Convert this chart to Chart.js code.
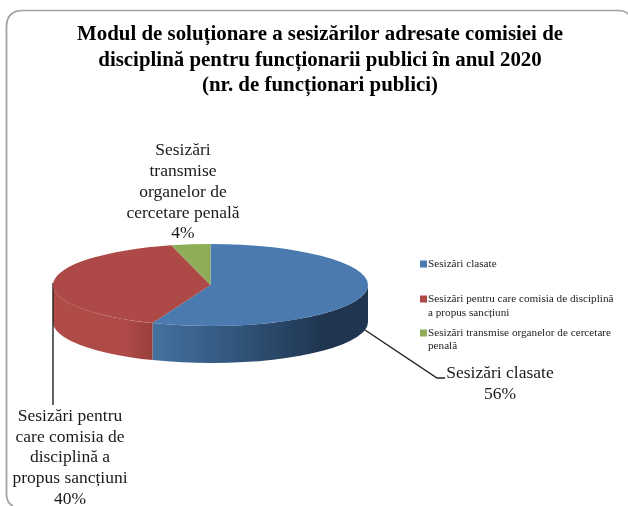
<!DOCTYPE html>
<html><head><meta charset="utf-8">
<style>html,body{margin:0;padding:0;background:#fff}canvas{display:block;filter:blur(0.35px)}</style>
<script src="https://cdn.jsdelivr.net/npm/chart.js@4"></script></head>
<body><div style="width:628px;height:506px"><canvas id="c" width="628" height="506"></canvas></div>
<script>
const titleLines = ["Modul de soluționare a sesizărilor adresate comisiei de","disciplină pentru funcționarii publici în anul 2020","(nr. de funcționari publici)"];
const categories = ["Sesizări clasate","Sesizări pentru care comisia de disciplină a propus sancțiuni","Sesizări transmise organelor de cercetare penală"];
const values = [56,40,4];
const colors = ["#4a7ab0","#ad4a47","#8fac57"];
const legendLines = [["Sesizări clasate"],["Sesizări pentru care comisia de disciplină","a propus sancțiuni"],["Sesizări transmise organelor de cercetare","penală"]];
const dataLabelLines = [["Sesizări clasate","56%"],["Sesizări pentru","care comisia de","disciplină a","propus sancțiuni","40%"],["Sesizări","transmise","organelor de","cercetare penală","4%"]];
const sideStops = [[[0,"#44719f"],[0.35,"#33587f"],[0.8,"#1f3550"],[1,"#1f3550"]],[[0,"#b04c48"],[0.75,"#ae4a47"],[1,"#973e3b"]],[[0,"#8fac57"],[1,"#8fac57"]]];

const CX=210.5, CY=285, RX=157.5, RY=41, DEPTH=37;
const pie3d = {
  id:'pie3d',
  beforeDraw(chart){
    const c=chart.ctx; c.save();
    c.fillStyle='#fff'; c.fillRect(0,0,chart.width,chart.height);
    c.strokeStyle='#a0a0a0'; c.lineWidth=1.7;
    c.beginPath(); c.moveTo(13,506); c.quadraticCurveTo(6.5,503,6.5,494); c.lineTo(6.5,27);
    c.quadraticCurveTo(6.5,10.5,23,10.5); c.lineTo(618,10.5); c.quadraticCurveTo(625,10.5,628,14);
    c.stroke(); c.restore();
  },
  beforeDatasetsDraw(chart){
    const c=chart.ctx, arcs=chart.getDatasetMeta(0).data;
    c.save();
    // extruded rim
    arcs.forEach((a,i)=>{
      const s=Math.max(a.startAngle,0), e=Math.min(a.endAngle,Math.PI);
      if(e<=s) return;
      const x0=CX+RX*Math.cos(e), x1=CX+RX*Math.cos(s);
      const g=c.createLinearGradient(x0,0,x1,0);
      sideStops[i].forEach(p=>g.addColorStop(p[0],p[1]));
      c.fillStyle=g; c.beginPath();
      c.ellipse(CX,CY,RX,RY,0,s,e,false);
      c.ellipse(CX,CY+DEPTH,RX,RY,0,e,s,true);
      c.closePath(); c.fill();
    });
    // leader lines
    c.strokeStyle='#222'; c.lineWidth=1.4;
    c.beginPath(); c.moveTo(53,283); c.lineTo(53,405); c.stroke();
    c.beginPath(); c.moveTo(365,330); c.lineTo(437,378); c.lineTo(445,378); c.stroke();
    c.restore();
    c.save();
    const a0=arcs[0];
    c.translate(CX,CY); c.scale(1,RY/RX); c.translate(-a0.x,-a0.y);
  },
  afterDatasetsDraw(chart){
    const c=chart.ctx; c.restore();
    c.save(); c.fillStyle='#1a1a1a'; c.textAlign='center'; c.textBaseline='middle';
    c.font='17.5px "Liberation Serif"';
    const pos=[[500,[373,394]],[70,[416,437,457,478,499]],[183,[150,171,192,213,233]]];
    dataLabelLines.forEach((ls,i)=>ls.forEach((t,j)=>c.fillText(t,pos[i][0],pos[i][1][j])));
    c.textAlign='left'; c.font='11.2px "Liberation Serif"';
    const ly=[[264],[299,313],[333,346]];
    legendLines.forEach((ls,i)=>{
      c.fillStyle=colors[i]; c.fillRect(420,ly[i][0]-3.5,7,7);
      c.fillStyle='#222';
      ls.forEach((t,j)=>c.fillText(t,428,ly[i][j]));
    });
    c.restore();
  }
};
new Chart(document.getElementById('c'),{
  type:'pie',
  data:{labels:categories,datasets:[{data:values,backgroundColor:colors,borderWidth:0}]},
  plugins:[pie3d],
  options:{
    responsive:false,animation:false,radius:RX,
    layout:{padding:{left:12}},
    plugins:{
      legend:{display:false},tooltip:{enabled:false},
      title:{display:true,text:titleLines,color:'#000',font:{family:'"Liberation Serif"',size:20.9,weight:'bold',lineHeight:1.22},padding:{top:22,bottom:10}}
    }
  }
});
</script></body></html>
